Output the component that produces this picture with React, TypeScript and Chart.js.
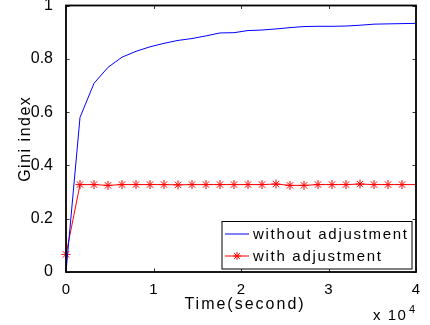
import React, { useEffect, useRef } from "react";
import { Chart, registerables } from "chart.js";

Chart.register(...registerables);

// ---- data ----
const times = [
  0, 1600, 3200, 4800, 6400, 8000, 9600, 11200, 12800, 14400, 16000, 17600, 19200,
  20800, 22400, 24000, 25600, 27200, 28800, 30400, 32000, 33600, 35200, 36800, 38400, 40000,
];
const withoutAdjustment = [
  0, 0.58, 0.708, 0.768, 0.806, 0.828, 0.845, 0.858, 0.869, 0.876, 0.886, 0.897, 0.898,
  0.906, 0.908, 0.912, 0.917, 0.921, 0.922, 0.922, 0.923, 0.926, 0.93, 0.931, 0.932, 0.933,
];
const withAdjustment = [
  0.066, 0.328, 0.328, 0.325, 0.328, 0.328, 0.328, 0.328, 0.327, 0.328, 0.328, 0.328, 0.328,
  0.328, 0.328, 0.33, 0.325, 0.325, 0.328, 0.328, 0.328, 0.33, 0.328, 0.328, 0.328, 0.328,
];
const seriesLabels = ["without adjustment", "with adjustment"];
const xTickValues = [0, 1, 2, 3, 4]; // x 10^4
const xExponent = 4;
const yTickValues = [0, 0.2, 0.4, 0.6, 0.8, 1];
const xTitle = "Time(second)";
const yTitle = "Gini index";

const FONT = '"Liberation Sans", Arial, Helvetica, sans-serif';

function drawStar(ctx: CanvasRenderingContext2D, x: number, y: number, r: number) {
  ctx.beginPath();
  ctx.moveTo(x - r, y);
  ctx.lineTo(x + r, y);
  ctx.moveTo(x, y - r);
  ctx.lineTo(x, y + r);
  const d = r * Math.SQRT1_2;
  ctx.moveTo(x - d, y - d);
  ctx.lineTo(x + d, y + d);
  ctx.moveTo(x - d, y + d);
  ctx.lineTo(x + d, y - d);
  ctx.stroke();
}

const matlabFrame = {
  id: "matlabFrame",
  afterDraw(chart: any) {
    const ctx: CanvasRenderingContext2D = chart.ctx;
    const { left, right, top, bottom } = chart.chartArea;
    const xs = chart.scales.x;
    const ys = chart.scales.y;
    ctx.save();
    // inward ticks
    ctx.strokeStyle = "#333";
    ctx.lineWidth = 1;
    const tl = 3.5;
    ctx.beginPath();
    xs.ticks.forEach((t: any) => {
      const px = Math.round(xs.getPixelForValue(t.value)) + 0.5;
      ctx.moveTo(px, bottom);
      ctx.lineTo(px, bottom - tl);
      ctx.moveTo(px, top);
      ctx.lineTo(px, top + tl);
    });
    ys.ticks.forEach((t: any) => {
      const py = Math.round(ys.getPixelForValue(t.value)) + 0.5;
      ctx.moveTo(left, py);
      ctx.lineTo(left + tl, py);
      ctx.moveTo(right, py);
      ctx.lineTo(right - tl, py);
    });
    ctx.stroke();
    // box
    ctx.strokeStyle = "#000";
    ctx.lineWidth = 1.8;
    ctx.strokeRect(left, top, right - left, bottom - top);

    // axis titles
    ctx.fillStyle = "#000";
    (ctx as any).letterSpacing = "2px";
    ctx.font = `16px ${FONT}`;
    ctx.textAlign = "center";
    ctx.textBaseline = "alphabetic";
    ctx.fillText(xTitle, (left + right) / 2 + 4, 309);
    ctx.save();
    ctx.translate(30, (top + bottom) / 2);
    ctx.rotate(-Math.PI / 2);
    (ctx as any).letterSpacing = "1.5px";
    ctx.fillText(yTitle, 0, 0);
    ctx.restore();

    // exponent label
    (ctx as any).letterSpacing = "1.5px";
    ctx.font = `15px ${FONT}`;
    ctx.textAlign = "left";
    ctx.fillText("x 10", 373, 320);
    (ctx as any).letterSpacing = "0px";
    ctx.font = `11px ${FONT}`;
    ctx.fillText(String(xExponent), 409, 313);

    // legend
    const lx = 222, ly = 221.5, lw = 190, lh = 47.5;
    ctx.fillStyle = "#fff";
    ctx.fillRect(lx, ly, lw, lh);
    ctx.strokeStyle = "#000";
    ctx.lineWidth = 1;
    ctx.strokeRect(lx, ly, lw, lh);
    ctx.font = `15px ${FONT}`;
    (ctx as any).letterSpacing = "1.7px";
    ctx.textBaseline = "middle";
    ctx.textAlign = "left";
    chart.data.datasets.forEach((ds: any, i: number) => {
      const y = i === 0 ? 234 : 256;
      ctx.strokeStyle = ds.borderColor;
      ctx.lineWidth = 1;
      ctx.beginPath();
      ctx.moveTo(225, y);
      ctx.lineTo(249, y);
      ctx.stroke();
      if (ds.pointStyle === "star") drawStar(ctx, 237, y, 4);
      ctx.fillStyle = "#000";
      ctx.fillText(ds.label, 253, y + 1);
    });
    ctx.restore();
  },
};

export default function App() {
  const ref = useRef<HTMLCanvasElement | null>(null);

  useEffect(() => {
    if (!ref.current) return;
    const chart = new Chart(ref.current, {
      type: "line",
      data: {
        datasets: [
          {
            label: seriesLabels[0],
            data: times.map((t, i) => ({ x: t, y: withoutAdjustment[i] })),
            borderColor: "rgb(0,0,255)",
            backgroundColor: "rgb(0,0,255)",
            borderWidth: 1,
            pointRadius: 0,
            tension: 0,
            clip: false as any,
          },
          {
            label: seriesLabels[1],
            data: times.map((t, i) => ({ x: t, y: withAdjustment[i] })),
            borderColor: "rgb(255,0,0)",
            backgroundColor: "rgb(255,0,0)",
            borderWidth: 1,
            pointStyle: "star",
            pointRadius: times.map((_, i) => (i === times.length - 1 ? 0 : 4.5)),
            pointBorderWidth: 1,
            pointBorderColor: "rgb(255,0,0)",
            tension: 0,
            clip: false as any,
          },
        ],
      },
      options: {
        responsive: false,
        animation: false,
        devicePixelRatio: 1,
        layout: { padding: { top: 5.5, right: 14, left: 0, bottom: 0 } },
        plugins: { legend: { display: false }, tooltip: { enabled: false } },
        scales: {
          x: {
            type: "linear",
            min: 0,
            max: 40000,
            grid: { display: false },
            border: { display: false },
            afterBuildTicks: (s: any) => {
              s.ticks = xTickValues.map((v) => ({ value: v * Math.pow(10, xExponent) }));
            },
            afterFit: (s: any) => {
              s.height = 53;
              s.paddingLeft = 0;
              s.paddingRight = 0;
            },
            ticks: {
              autoSkip: false,
              maxRotation: 0,
              padding: 1,
              color: "#000",
              font: { family: FONT, size: 15 },
              callback: (v: any) => String(v / Math.pow(10, xExponent)),
            },
          },
          y: {
            type: "linear",
            min: 0,
            max: 1,
            grid: { display: false },
            border: { display: false },
            afterBuildTicks: (s: any) => {
              s.ticks = yTickValues.map((v) => ({ value: v }));
            },
            afterFit: (s: any) => {
              s.width = 66;
              s.paddingTop = 0;
              s.paddingBottom = 0;
            },
            ticks: {
              autoSkip: false,
              padding: 5,
              color: "#000",
              font: { family: FONT, size: 16 },
              callback: (v: any) => String(Number(Number(v).toFixed(1))),
            },
          },
        },
      },
      plugins: [matlabFrame],
    });
    return () => chart.destroy();
  }, []);

  return (
    <div style={{ position: "fixed", left: 0, top: 0, width: 430, height: 325, background: "#fff" }}>
      <canvas ref={ref} width={430} height={325} style={{ width: 430, height: 325 }} />
    </div>
  );
}
